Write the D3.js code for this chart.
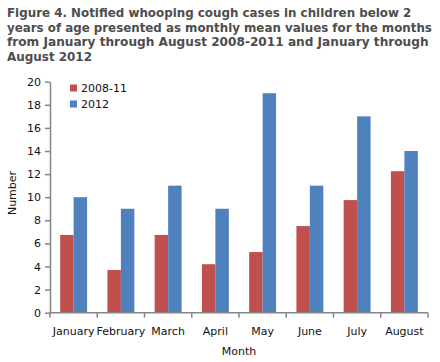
<!DOCTYPE html>
<html><head><meta charset="utf-8">
<script src="https://cdn.jsdelivr.net/npm/d3@7"></script>
<style>body{margin:0;background:#fff}svg{display:block}</style>
</head><body>
<script>
const titleLines = ["Figure 4. Notified whooping cough cases in children below 2",
  "years of age presented as monthly mean values for the months",
  "from January through August 2008-2011 and January through",
  "August 2012"];
const titleWidths = [405, 425, 422, 85];
const months = ["January","February","March","April","May","June","July","August"];
const seriesNames = ["2008-11","2012"];
const values0811 = [6.73, 3.7, 6.73, 4.2, 5.25, 7.5, 9.75, 12.25];
const values2012 = [10, 9, 11, 9, 19, 11, 17, 14];
const yTicks = [0,2,4,6,8,10,12,14,16,18,20];
const colors = ["#C0504D","#4F81BD"];

const W=440,H=362;
const svg=d3.select("body").append("svg").attr("width",W).attr("height",H);
const font="Verdana, 'DejaVu Sans', sans-serif";

// title
const tg=svg.append("g");
titleLines.forEach((t,i)=>{
  const tx=tg.append("text").attr("x",7).attr("y",17+i*14.6).text(t)
    .attr("font-family",font).attr("font-weight","bold").attr("font-size",13).attr("fill","#4d4d4d");
  const len=tx.node().getComputedTextLength();
  if(len>titleWidths[i]) tx.attr("font-size",(13*titleWidths[i]/len).toFixed(2));
});

const x0=d3.scaleBand().domain(months).range([50,428]).paddingInner(0.43).paddingOuter(0.215);
const x1=d3.scaleBand().domain(seriesNames).range([0,x0.bandwidth()]);
const y=d3.scaleLinear().domain([0,20]).range([312.7,81.7]);

const data=months.map((m,i)=>({m,vals:[values0811[i],values2012[i]]}));
const g=svg.append("g");
data.forEach(d=>{
  d.vals.forEach((v,j)=>{
    g.append("rect").attr("x",x0(d.m)+x1(seriesNames[j])).attr("width",x1.bandwidth())
      .attr("y",y(v)).attr("height",y(0)-y(v)).attr("fill",colors[j]);
  });
});

// y axis
const ya=svg.append("g").attr("transform","translate(50,0)")
  .call(d3.axisLeft(y).tickValues(yTicks).tickSize(5).tickSizeOuter(0).tickPadding(4));
ya.select(".domain").attr("stroke","#868686").attr("stroke-width",1.5);
ya.selectAll(".tick line").attr("stroke","#868686").attr("stroke-width",1.5);
ya.selectAll("text").attr("font-family",font).attr("font-size",11).attr("fill","#111");

// x axis
const xEdges=d3.scaleLinear().domain([0,8]).range([50,428]);
const xa=svg.append("g").attr("transform","translate(0,312.7)");
xa.append("line").attr("x1",50).attr("x2",428).attr("stroke","#868686").attr("stroke-width",1.5);
d3.range(9).forEach(i=>{
  xa.append("line").attr("x1",xEdges(i)).attr("x2",xEdges(i)).attr("y1",0).attr("y2",5)
    .attr("stroke","#868686").attr("stroke-width",1.5);
});
months.forEach(m=>{
  xa.append("text").attr("x",x0(m)+x0.bandwidth()/2).attr("y",22).attr("text-anchor","middle")
    .attr("font-family",font).attr("font-size",11).attr("fill","#111").text(m);
});

// axis titles
svg.append("text").attr("x",239).attr("y",355).attr("text-anchor","middle")
  .attr("font-family",font).attr("font-size",11).attr("fill","#111").text("Month");
svg.append("text").attr("transform","translate(16,193) rotate(-90)").attr("text-anchor","middle")
  .attr("font-family",font).attr("font-size",11).attr("fill","#111").text("Number");

// legend
seriesNames.forEach((s,i)=>{
  svg.append("rect").attr("x",70).attr("y",84.5+i*16).attr("width",7).attr("height",7).attr("fill",colors[i]);
  svg.append("text").attr("x",81).attr("y",92+i*16).attr("font-family",font).attr("font-size",11)
    .attr("fill","#111").text(s);
});
</script>
</body></html>
